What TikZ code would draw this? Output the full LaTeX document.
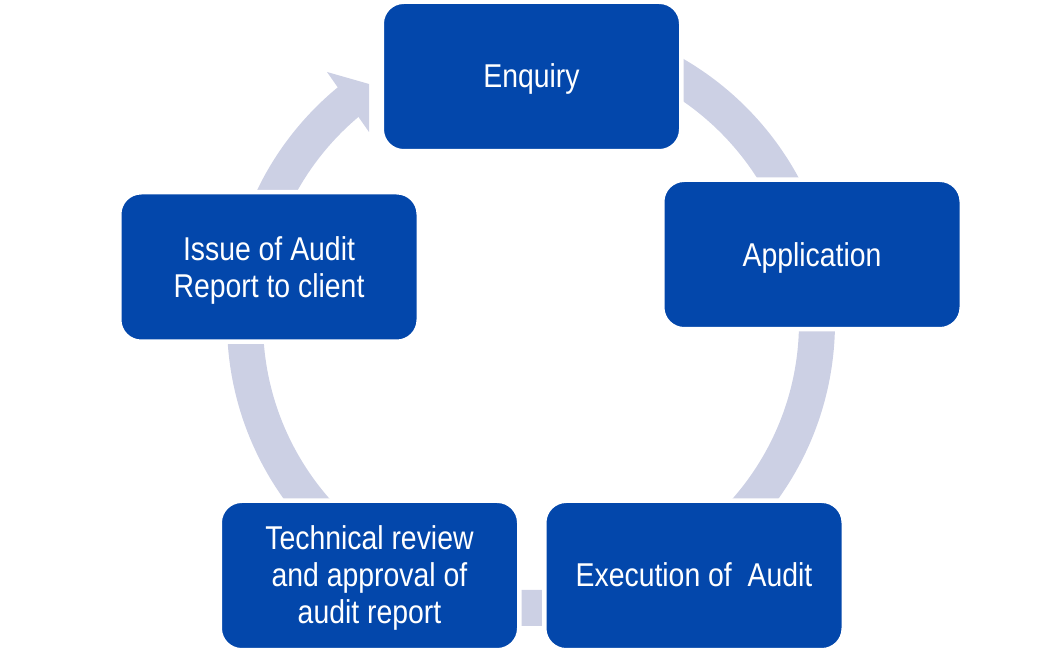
\documentclass[tikz,border=0pt]{standalone}
\usepackage{fontspec}
\setmainfont{Liberation Sans}[FakeStretch=0.86]
\usetikzlibrary{calc}
\definecolor{boxblue}{RGB}{3,71,171}
\definecolor{ringgray}{RGB}{204,208,228}
\begin{document}
\begin{tikzpicture}[x=1pt,y=1pt,
  stepbox/.style={draw=white, line width=4.5pt, fill=boxblue, rounded corners=22pt,
    minimum width=299.5pt, minimum height=149.5pt, inner sep=0pt},
  steptext/.style={text=white, align=center, inner sep=0pt,
    font=\fontsize{33}{37}\selectfont},
  ringpath/.style={draw=ringgray, line width=36pt}]
\useasboundingbox (0,0) rectangle (1063,653);
% cycle ring and arrow head
\coordinate (ctr) at (531,331);
\draw[ringpath] ($(ctr)+(90:286)$) arc[start angle=90, end angle=-231, radius=286];
\coordinate (barbout) at (327,581);
\coordinate (tip) at (369,569);
\coordinate (barbin) at (369,521);
\fill[ringgray] (barbout) -- (tip) -- (barbin) -- cycle;
% boxes
\node[stepbox] (enq) at (531.5,576.5) {};
\node[stepbox] (app) at (812,398.5) {};
\node[stepbox] (exe) at (694,77.5) {};
\node[stepbox] (tec) at (369.5,77.5) {};
\node[stepbox] (iss) at (269,386) {};
% texts
\node[steptext] (enqt) at ([yshift=-2.5pt]enq.center) {Enquiry};
\node[steptext] (appt) at ([yshift=-3.5pt]app.center) {Application};
\node[steptext] (exet) at ([yshift=0.8pt]exe.center) {Execution of\ \ Audit};
\node[steptext] (tect) at ([yshift=-2.9pt]tec.center) {Technical review\\and approval of\\audit report};
\node[steptext] (isst) at ([yshift=-3.5pt]iss.center) {Issue of Audit\\Report to client};
\end{tikzpicture}
\end{document}
